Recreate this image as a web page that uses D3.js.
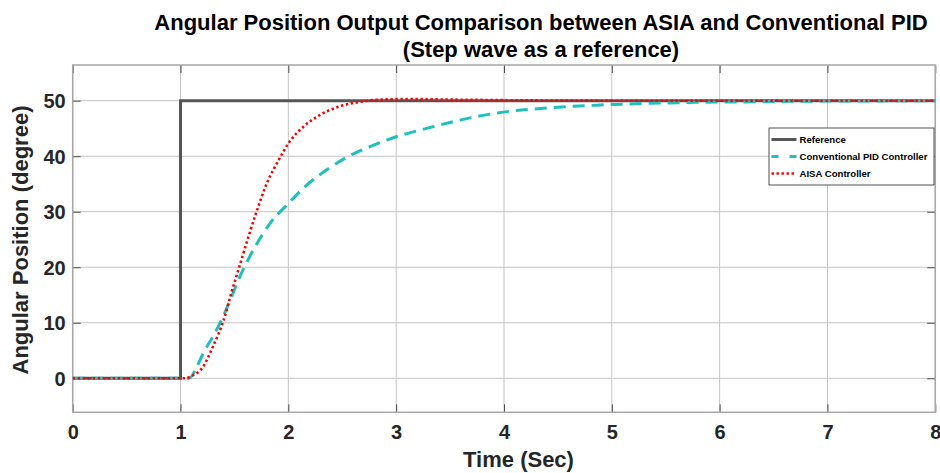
<!DOCTYPE html>
<html><head><meta charset="utf-8">
<script src="https://cdn.jsdelivr.net/npm/d3@7"></script>
<style>body{margin:0;background:#fff;} svg{display:block;}</style>
</head><body>
<svg id="c" width="940" height="473"></svg>
<script>
// ---- data ----
const xTicks = [0,1,2,3,4,5,6,7,8];
const yTicks = [0,10,20,30,40,50];
const refT = [0,1,1,8];
const refV = [0,0,50,50];
const pidT = [0,1.0,1.08,1.15,1.21,1.3,1.38,1.47,1.55,1.63,1.71,1.83,2.0,2.17,2.36,2.54,2.79,3.0,3.3,3.59,3.94,4.4,4.86,5.3,5.79,6.3,6.72,7.3,8];
const pidV = [0,0,0,2,4.5,7.5,10.5,14.5,18.3,21.5,24.3,27.9,31.5,34.8,37.6,39.8,42.0,43.5,45.1,46.5,47.8,48.7,49.2,49.5,49.7,49.8,49.9,49.95,50];
const aisaT = [0,1.0,1.05,1.1,1.21,1.3,1.4,1.47,1.55,1.63,1.71,1.8,1.91,2.0,2.14,2.29,2.48,2.67,2.85,3.1,3.5,4,5,8];
const aisaV = [0,0,0,0.4,2.1,5.7,10.5,15.3,20.4,25.5,30.3,35.1,39.3,42.3,45.3,47.4,49.0,49.8,50.2,50.3,50.2,50.1,50,50];
const seriesNames = ["Reference","Conventional PID Controller","AISA Controller"];
const titleLines = ["Angular Position Output Comparison between ASIA and Conventional PID","(Step wave as a reference)"];

const svg = d3.select("#c");
const font = "'Liberation Sans', Arial, Helvetica, sans-serif";
const L = 72.7, R = 935.3, T = 65, B = 412.3;
const x = d3.scaleLinear().domain([0,8]).range([L,R]);
const y = d3.scaleLinear().domain([-6.12,56.43]).range([B,T]);

// grid
const g = svg.append("g");
g.selectAll(".gx").data(xTicks).join("line")
  .attr("x1",d=>x(d)).attr("x2",d=>x(d)).attr("y1",T).attr("y2",B)
  .attr("stroke","#c4c4c4").attr("stroke-width",1);
g.selectAll(".gy").data(yTicks).join("line")
  .attr("y1",d=>y(d)).attr("y2",d=>y(d)).attr("x1",L).attr("x2",R)
  .attr("stroke","#c4c4c4").attr("stroke-width",1);

// axes (ticks inside)
const ax = svg.append("g").attr("transform",`translate(0,${B})`)
  .call(d3.axisBottom(x).tickValues(xTicks).tickSize(-8).tickPadding(13).tickFormat(d3.format("d")));
const ay = svg.append("g").attr("transform",`translate(${L},0)`)
  .call(d3.axisLeft(y).tickValues(yTicks).tickSize(-8).tickPadding(7).tickFormat(d3.format("d")));
[ax,ay].forEach(a=>{
  a.select(".domain").remove();
  a.selectAll(".tick line").attr("stroke","#262626").attr("stroke-width",0.8);
  a.selectAll(".tick text").attr("fill","#262626").attr("font-family",font)
   .attr("font-weight","bold").attr("font-size",20);
});
ax.selectAll(".tick text").attr("dy","0.71em");
ay.selectAll(".tick text").attr("dy","0.36em");
// top/right ticks
svg.append("g").attr("transform",`translate(0,${T})`)
  .call(d3.axisTop(x).tickValues(xTicks).tickSize(-8).tickFormat(""))
  .call(a=>{a.select(".domain").remove();a.selectAll("line").attr("stroke","#262626").attr("stroke-width",0.8);});
svg.append("g").attr("transform",`translate(${R},0)`)
  .call(d3.axisRight(y).tickValues(yTicks).tickSize(-8).tickFormat(""))
  .call(a=>{a.select(".domain").remove();a.selectAll("line").attr("stroke","#262626").attr("stroke-width",0.8);});
// box
svg.append("rect").attr("x",L).attr("y",T).attr("width",R-L).attr("height",B-T)
  .attr("fill","none").attr("stroke","#a6a6a6").attr("stroke-width",1.5);

// lines
const line = d3.line().x(d=>x(d[0])).y(d=>y(d[1]));
const smooth = d3.line().x(d=>x(d[0])).y(d=>y(d[1])).curve(d3.curveMonotoneX);
const zip = (a,b)=>a.map((t,i)=>[t,b[i]]);
const clipId = "clp";
svg.append("clipPath").attr("id",clipId).append("rect").attr("x",L).attr("y",T).attr("width",R-L).attr("height",B-T);
const pl = svg.append("g").attr("clip-path",`url(#${clipId})`);
pl.append("path").attr("d",line(zip(refT,refV))).attr("fill","none")
  .attr("stroke","#555555").attr("stroke-width",3);
pl.append("path").attr("d",smooth(zip(pidT,pidV))).attr("fill","none")
  .attr("stroke","#1cc1c1").attr("stroke-width",3).attr("stroke-dasharray","12,7");
pl.append("path").attr("d",smooth(zip(aisaT,aisaV))).attr("fill","none")
  .attr("stroke","#ff0000").attr("stroke-width",2.6).attr("stroke-dasharray","2.4,2.6");

// legend
const lg = svg.append("g");
lg.append("rect").attr("x",769).attr("y",128).attr("width",165).attr("height",57)
  .attr("fill","#fff").attr("stroke","#262626").attr("stroke-width",0.8);
const styles = [
  {c:"#555555",w:3,d:null},
  {c:"#1cc1c1",w:3,d:"7,11"},
  {c:"#ff0000",w:2.6,d:"2.4,2.6"}];
const ly = [139.5,156.5,173.5];
seriesNames.forEach((n,i)=>{
  lg.append("line").attr("x1",771.5).attr("x2",796.5).attr("y1",ly[i]).attr("y2",ly[i])
    .attr("stroke",styles[i].c).attr("stroke-width",styles[i].w).attr("stroke-dasharray",styles[i].d);
  lg.append("text").attr("x",799.5).attr("y",ly[i]).attr("dy","0.35em").text(n)
    .attr("font-family",font).attr("font-weight","bold").attr("font-size",9.6).attr("fill","#000");
});

// labels
svg.append("text").attr("x",518.5).attr("y",467).attr("text-anchor","middle")
  .attr("font-family",font).attr("font-weight","bold").attr("font-size",22).attr("fill","#262626").text("Time (Sec)");
svg.append("text").attr("transform","translate(28,240) rotate(-90)").attr("text-anchor","middle")
  .attr("font-family",font).attr("font-weight","bold").attr("font-size",22).attr("fill","#262626").text("Angular Position (degree)");
titleLines.forEach((t,i)=>{
  svg.append("text").attr("x",541).attr("y",30+i*27).attr("text-anchor","middle")
    .attr("font-family",font).attr("font-weight","bold").attr("font-size",22).attr("fill","#000").text(t);
});
</script>
</body></html>
